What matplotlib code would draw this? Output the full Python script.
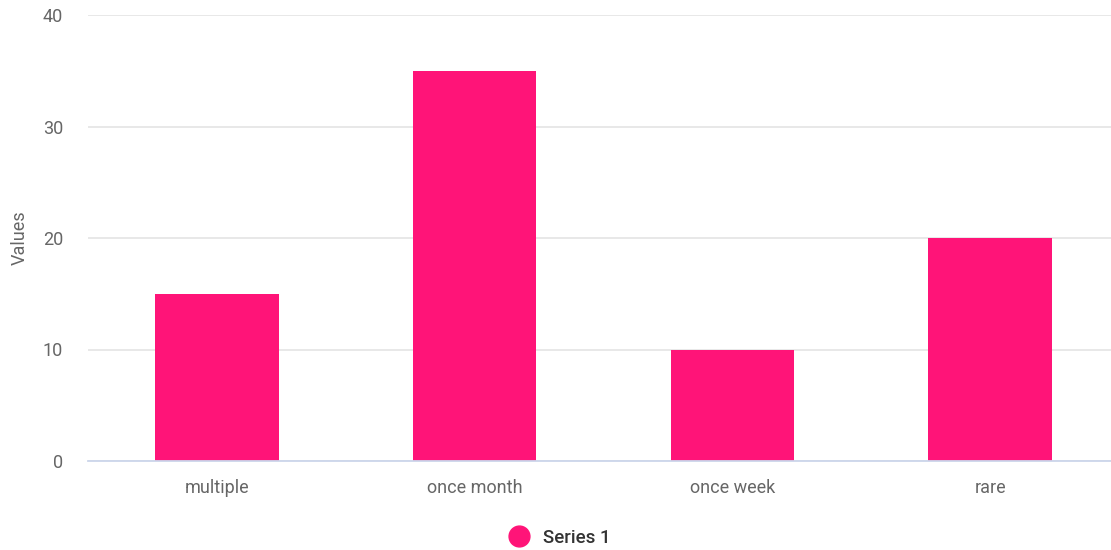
import matplotlib.pyplot as plt
from matplotlib.lines import Line2D

plt.rcParams['font.family'] = ['Roboto', 'DejaVu Sans']

categories = ['multiple', 'once month', 'once week', 'rare']
values = [15, 35, 10, 20]
series_name = 'Series 1'
yticks = [0, 10, 20, 30, 40]

bar_color = '#ff1478'

fig = plt.figure(figsize=(11.11, 5.5), dpi=100)
ax = fig.add_axes([88 / 1111, 1 - 461 / 550, 1031 / 1111, 446 / 550])

ax.bar(range(len(categories)), values, width=0.48, color=bar_color, zorder=3)

ax.set_xlim(-0.5, len(categories) - 0.5)
ax.set_ylim(0, 40)
ax.set_yticks(yticks)
ax.set_xticks(range(len(categories)))
ax.set_xticklabels(categories)

# light horizontal grid, no frame except the baseline
ax.grid(axis='y', color='#e6e6e6', linewidth=1.3, zorder=0)
for side in ['top', 'right', 'left']:
    ax.spines[side].set_visible(False)
ax.spines['bottom'].set_color('#ccd6eb')
ax.spines['bottom'].set_linewidth(1.3)
ax.spines['bottom'].set_zorder(4)

ax.tick_params(axis='both', length=0, labelsize=13, labelcolor='#666666')
ax.tick_params(axis='y', pad=18)
ax.tick_params(axis='x', pad=13)

ax.set_ylabel('Values', fontsize=13, color='#666666')
ax.yaxis.set_label_coords(-0.057, 0.5)

handle = Line2D([], [], marker='o', linestyle='none', markersize=15,
                markerfacecolor=bar_color, markeredgecolor=bar_color)
leg = fig.legend([handle], [series_name], loc='center', bbox_to_anchor=(0.5, 1 - 538 / 550),
                 frameon=False, fontsize=13.5, handletextpad=0.3,
                 labelcolor='#333333')
for t in leg.get_texts():
    t.set_fontweight('medium')

fig.savefig('out.png', dpi=100)
